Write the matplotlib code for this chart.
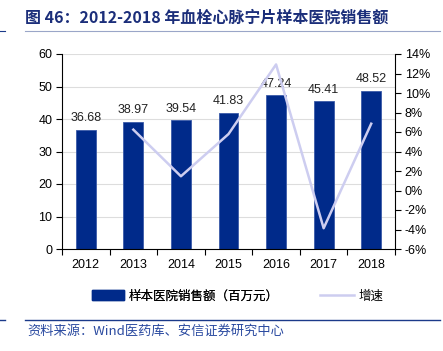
import matplotlib
matplotlib.use("Agg")
import matplotlib.pyplot as plt
from matplotlib.lines import Line2D
from matplotlib.patches import Patch

years = ["2012", "2013", "2014", "2015", "2016", "2017", "2018"]
sales = [36.68, 38.97, 39.54, 41.83, 47.24, 45.41, 48.52]
growth_years = ["2013", "2014", "2015", "2016", "2017", "2018"]
growth = [6.24, 1.46, 5.79, 12.93, -3.87, 6.85]
left_ticks = [0, 10, 20, 30, 40, 50, 60]
right_ticks = [-6, -4, -2, 0, 2, 4, 6, 8, 10, 12, 14]

plt.rcParams['font.family'] = ['Liberation Sans', 'Noto Sans CJK SC', 'DejaVu Sans']
cjk = ['Noto Sans CJK SC', 'DejaVu Sans']

BAR = '#002a8a'
LINE = '#cdcdf0'
TITLE = '#1b2e7a'

fig = plt.figure(figsize=(4.43, 3.51), dpi=100)
W, H = 443, 351
ax = fig.add_axes([62 / W, 1 - 249 / H, 333 / W, 195 / H])
ax2 = ax.twinx()

x = list(range(len(years)))
ax.bar(x, sales, width=0.42, color=BAR, edgecolor='#3a5aa8', linewidth=0.6, zorder=2)
for xi, v in zip(x, sales):
    ax.text(xi, v + 1.8, f"{v:.2f}", ha='center', va='bottom', fontsize=9, color='#222222')
ax.set_ylim(0, 60)
ax.set_xlim(-0.5, len(years) - 0.5)
ax.set_yticks(left_ticks)
ax.set_yticklabels([str(t) for t in left_ticks], fontsize=9)
ax.set_xticks(x)
ax.set_xticklabels(years, fontsize=9)
ax.set_xticks([i + 0.5 for i in range(-1, len(years))], minor=True)
ax.tick_params(axis='x', which='major', length=0, pad=7)
ax.tick_params(axis='x', which='minor', length=4, direction='out', width=0.8)
ax.tick_params(axis='y', length=4, direction='out', width=0.8, pad=3)
ax.grid(axis='y', color='#dddddd', linewidth=0.8, zorder=0)
ax.set_axisbelow(True)
for s in ['top', 'right']:
    ax.spines[s].set_visible(False)
ax.spines['left'].set_linewidth(0.8)
ax.spines['bottom'].set_linewidth(0.8)

gx = [years.index(y) for y in growth_years]
ax2.plot(gx, growth, color=LINE, linewidth=1.8, zorder=3)
ax2.set_ylim(-6, 14)
ax2.set_yticks(right_ticks)
ax2.set_yticklabels([f"{t}%" for t in right_ticks], fontsize=9)
ax2.tick_params(axis='y', length=4, direction='out', width=0.8, pad=3)
for s in ['top', 'left', 'bottom']:
    ax2.spines[s].set_visible(False)
ax2.spines['right'].set_linewidth(0.8)

# legend (two entries placed separately)
leg_y = 1 - 296 / H
l1 = fig.legend([Patch(facecolor=BAR, edgecolor=BAR)], ['样本医院销售额（百万元）'],
                loc='center left', bbox_to_anchor=(88 / W, leg_y), frameon=False,
                prop={'family': cjk, 'size': 9}, handlelength=2.6, handleheight=0.8,
                handletextpad=0.35, borderaxespad=0, borderpad=0.3)
l2 = fig.legend([Line2D([0], [0], color=LINE, linewidth=1.8)], ['增速'],
                loc='center left', bbox_to_anchor=(316 / W, leg_y), frameon=False,
                prop={'family': cjk, 'size': 9}, handlelength=2.7,
                handletextpad=0.4, borderaxespad=0, borderpad=0.3)
fig.add_artist(l1)

# title
fig.text(25 / W, 1 - 18 / H, '图 46：2012-2018 年血栓心脉宁片样本医院销售额', fontsize=11.5,
         fontweight='bold', color=TITLE, family=cjk, va='center', ha='left')
fig.add_artist(Line2D([25 / W, 440 / W], [1 - 31 / H, 1 - 31 / H], color='#9aa6c8', linewidth=0.8))
fig.add_artist(Line2D([0, 5 / W], [1 - 31 / H, 1 - 31 / H], color='#1b3a8a', linewidth=0.8))
fig.add_artist(Line2D([25 / W, 440 / W], [1 - 320 / H, 1 - 320 / H], color='#1b3a8a', linewidth=1.0))
fig.add_artist(Line2D([0, 5 / W], [1 - 320 / H, 1 - 320 / H], color='#1b3a8a', linewidth=1.0))
fig.text(27 / W, 1 - 331 / H, '资料来源：Wind医药库、安信证券研究中心', fontsize=9.5,
         color='#2a4aa0', family=cjk, style='italic', va='center', ha='left')

fig.savefig('out.png', dpi=100)
